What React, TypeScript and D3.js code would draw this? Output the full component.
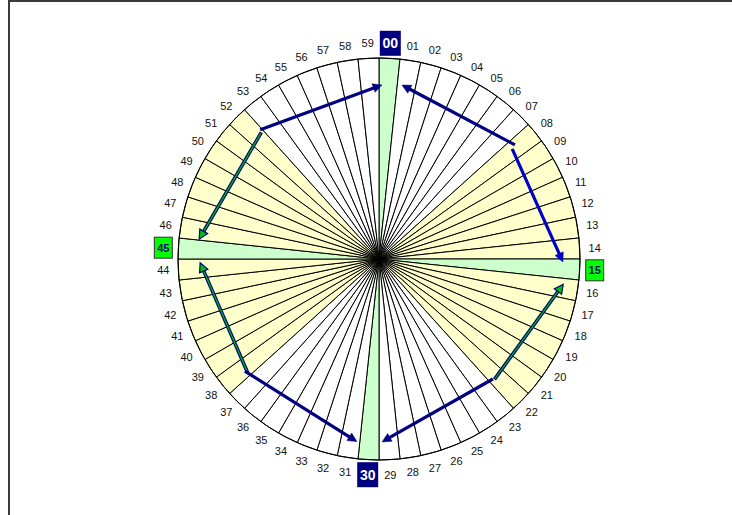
import React from 'react';
import * as d3 from 'd3';

// minute slices, clockwise from the top
const minuteLabels = [
  '00', '01', '02', '03', '04', '05', '06', '07', '08', '09',
  '10', '11', '12', '13', '14', '15', '16', '17', '18', '19',
  '20', '21', '22', '23', '24', '25', '26', '27', '28', '29',
  '30', '31', '32', '33', '34', '35', '36', '37', '38', '39',
  '40', '41', '42', '43', '44', '45', '46', '47', '48', '49',
  '50', '51', '52', '53', '54', '55', '56', '57', '58', '59',
];
const sliceValues = [
  1, 1, 1, 1, 1, 1, 1, 1, 1, 1, 1, 1, 1, 1, 1,
  1, 1, 1, 1, 1, 1, 1, 1, 1, 1, 1, 1, 1, 1, 1,
  1, 1, 1, 1, 1, 1, 1, 1, 1, 1, 1, 1, 1, 1, 1,
  1, 1, 1, 1, 1, 1, 1, 1, 1, 1, 1, 1, 1, 1, 1,
];
const greenSlices = ['00', '15', '30', '45'];
const yellowSlices = [
  '08', '09', '10', '11', '12', '13', '14', '16', '17', '18', '19', '20', '21', '22',
  '38', '39', '40', '41', '42', '43', '44', '46', '47', '48', '49', '50', '51', '52',
];
const navyLabels = ['00', '30'];
const greenLabels = ['15', '45'];

// arrows: [minute, radius as share of the pie radius]
const arrows = [
  { from: [8.33, 0.883], to: [1.25, 0.873], kind: 'navy' },
  { from: [8.4, 0.86], to: [15.15, 0.915], kind: 'blue' },
  { from: [52.9, 0.873], to: [0.16, 0.866], kind: 'navy' },
  { from: [52.85, 0.86], to: [46.05, 0.9], kind: 'green' },
  { from: [38.2, 0.864], to: [44.8, 0.89], kind: 'green' },
  { from: [38.35, 0.87], to: [31.15, 0.915], kind: 'navy' },
  { from: [22.75, 0.823], to: [29.84, 0.91], kind: 'navy' },
  { from: [22.7, 0.83], to: [16.3, 0.925], kind: 'green' },
];

const W = 732;
const H = 515;
const cx = 379;
const cy = 259;
const R = 201;

export default function App() {
  const angle = d3.scaleLinear().domain([0, 60]).range([0, 2 * Math.PI]);
  const radius = d3.scaleLinear().domain([0, 1]).range([0, R]);

  const pie = d3.pie<number>().sort(null).value((d) => d);
  const slices = pie(sliceValues);
  const arc = d3.arc<d3.PieArcDatum<number>>().innerRadius(0).outerRadius(R);

  const fillFor = (label: string) => {
    if (greenSlices.includes(label)) return '#ccffcc';
    if (yellowSlices.includes(label)) return '#ffffcc';
    return '#ffffff';
  };

  const pt = (m: number, r: number) => {
    const [x, y] = d3.pointRadial(angle(m), radius(r));
    return [x, y];
  };

  const labelR = 216;

  return (
    <div style={{ position: 'absolute', left: 0, top: 0 }}>
      <svg width={W} height={H} style={{ display: 'block' }}>
        <rect x={0} y={0} width={W} height={H} fill='#fff' />
        <rect x={9} y={1} width={W + 20} height={H + 20} fill='none' stroke='#3a3a3a' strokeWidth={2} />
        <g transform={`translate(${cx},${cy})`}>
          {slices.map((s, i) => (
            <path
              key={i}
              d={arc(s) || ''}
              fill={fillFor(minuteLabels[i])}
              stroke='#000'
              strokeWidth={1}
            />
          ))}
          <circle r={R} fill='none' stroke='#000' strokeWidth={1} />

          {arrows.map((a, i) => {
            const [x1, y1] = pt(a.from[0], a.from[1]);
            const [x2, y2] = pt(a.to[0], a.to[1]);
            const dx = x2 - x1;
            const dy = y2 - y1;
            const len = Math.hypot(dx, dy);
            const ux = dx / len;
            const uy = dy / len;
            const hl = 9;
            const hw = 4.5;
            const bx = x2 - ux * hl;
            const by = y2 - uy * hl;
            const head = `M${x2},${y2}L${bx - uy * hw},${by + ux * hw}L${bx + uy * hw},${by - ux * hw}Z`;
            if (a.kind === 'green') {
              return (
                <g key={i}>
                  <line x1={x1} y1={y1} x2={bx + ux * 1} y2={by + uy * 1} stroke='#000080' strokeWidth={3.6} />
                  <line x1={x1 + ux * 0.8} y1={y1 + uy * 0.8} x2={bx + ux * 2} y2={by + uy * 2} stroke='#00c000' strokeWidth={1.2} />
                  <path d={head} fill='#00c000' stroke='#000080' strokeWidth={1.2} strokeLinejoin='miter' />
                </g>
              );
            }
            const col = a.kind === 'blue' ? '#0000c8' : '#000080';
            return (
              <g key={i}>
                <line x1={x1} y1={y1} x2={bx + ux * 1} y2={by + uy * 1} stroke={col} strokeWidth={3.2} />
                <path d={head} fill={col} stroke={col} strokeWidth={0.5} />
              </g>
            );
          })}

          {slices.map((s, i) => {
            const label = minuteLabels[i];
            const mid = (s.startAngle + s.endAngle) / 2;
            const [x, y] = d3.pointRadial(mid, labelR);
            if (navyLabels.includes(label)) {
              return (
                <g key={label} transform={`translate(${x},${y})`}>
                  <rect x={-10.5} y={-12.5} width={21} height={25} fill='#000080' />
                  <text
                    textAnchor='middle'
                    dy='0.36em'
                    fontFamily='Liberation Sans, Arial, sans-serif'
                    fontSize={14}
                    fontWeight='bold'
                    fill='#fff'
                  >
                    {label}
                  </text>
                </g>
              );
            }
            if (greenLabels.includes(label)) {
              return (
                <g key={label} transform={`translate(${x},${y})`}>
                  <rect x={-9} y={-10.5} width={18} height={21} fill='#00ff00' stroke='#333' strokeWidth={1} />
                  <text
                    textAnchor='middle'
                    dy='0.36em'
                    fontFamily='Liberation Sans, Arial, sans-serif'
                    fontSize={11}
                    fontWeight='bold'
                    fill='#000080'
                  >
                    {label}
                  </text>
                </g>
              );
            }
            return (
              <text
                key={label}
                x={x}
                y={y}
                textAnchor='middle'
                dy='0.36em'
                fontFamily='Liberation Sans, Arial, sans-serif'
                fontSize={11}
                fill='#111'
              >
                {label}
              </text>
            );
          })}
        </g>
      </svg>
    </div>
  );
}
